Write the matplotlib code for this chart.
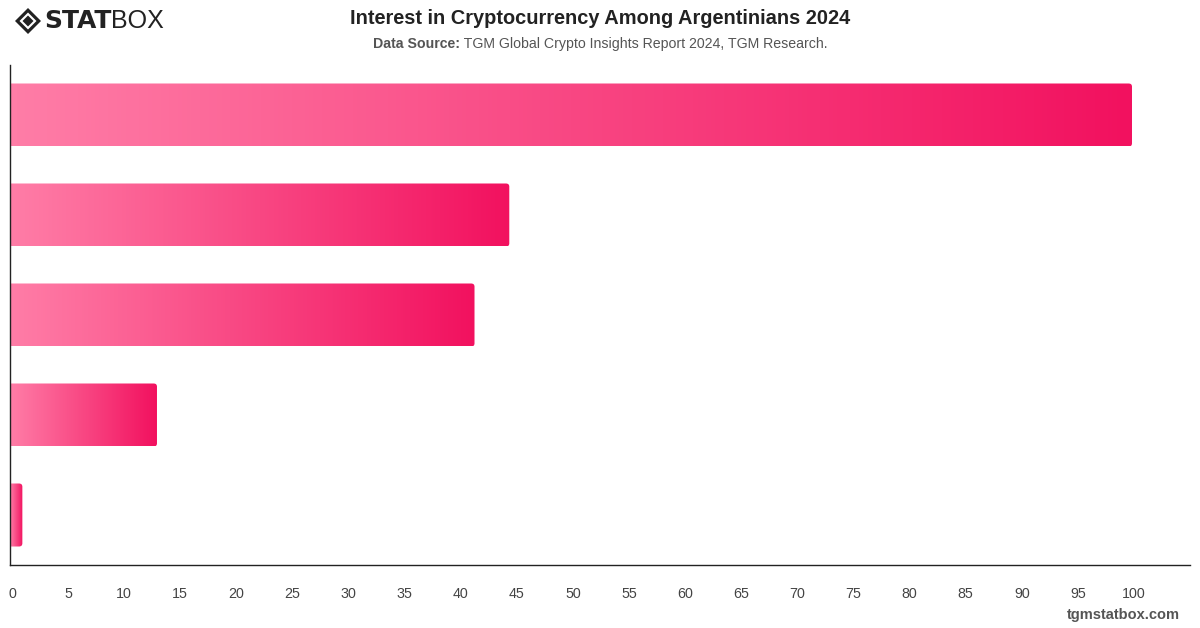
import matplotlib
matplotlib.use("Agg")
import matplotlib.pyplot as plt
import numpy as np
from matplotlib.patches import FancyBboxPatch, Polygon
from matplotlib.colors import LinearSegmentedColormap
import matplotlib.transforms as mtransforms

plt.rcParams['font.family'] = ['Liberation Sans', 'DejaVu Sans']

categories = ["A", "B", "C", "D", "E"]
values = [100, 44.5, 41.4, 13.1, 1.1]
xticks = list(range(0, 101, 5))

title = "Interest in Cryptocurrency Among Argentinians 2024"
source_bold = "Data Source:"
source_text = " TGM Global Crypto Insights Report 2024, TGM Research."

fig = plt.figure(figsize=(12, 6.28), dpi=100)
ax = fig.add_axes([10/1200, 1 - 565/628, 1180/1200, 500/628])

n = len(categories)
ypos = np.arange(n)
bar_h = 0.63

cmap = LinearSegmentedColormap.from_list("pk", ["#FF7DA7", "#F2115F"])
grad = np.linspace(0, 1, 256).reshape(1, -1)

bars = ax.barh(ypos, values, height=bar_h, color="none", edgecolor="none")
for b, v, y in zip(bars, values, ypos):
    x0 = -1
    patch = FancyBboxPatch((x0, y - bar_h/2), v - x0, bar_h,
                           boxstyle="round,pad=0,rounding_size=0.3",
                           mutation_aspect=0.105,
                           facecolor="none", edgecolor="none",
                           transform=ax.transData)
    ax.add_patch(patch)
    im = ax.imshow(grad, cmap=cmap, aspect="auto",
                   extent=[0, v, y + bar_h/2, y - bar_h/2],
                   interpolation="bilinear", zorder=2)
    im.set_clip_path(patch)

ax.set_xlim(0, 105.17)
ax.set_ylim(n - 0.5, -0.5)

for s in ["top", "right"]:
    ax.spines[s].set_visible(False)
for s in ["left", "bottom"]:
    ax.spines[s].set_color("#222222")
    ax.spines[s].set_linewidth(1.0)

ax.set_yticks([])
ax.set_xticks(xticks)
ax.set_xticklabels([str(t) for t in xticks])
ax.tick_params(axis="x", length=0, pad=16, labelsize=10.3, labelcolor="#444444")
offset = mtransforms.ScaledTranslation(2/100, 0, fig.dpi_scale_trans)
for lab in ax.get_xticklabels():
    lab.set_transform(lab.get_transform() + offset)

# Title
fig.text(0.5, 1 - 18/628, title, ha="center", va="center",
         fontsize=14.4, fontweight="bold", color="#222222")
# Subtitle
t1 = fig.text(0, 1 - 44/628, source_bold, ha="left", va="center",
              fontsize=10.2, fontweight="bold", color="#555555")
t2 = fig.text(0, 1 - 44/628, source_text, ha="left", va="center",
              fontsize=10.2, color="#555555")
fig.canvas.draw()
r = fig.canvas.get_renderer()
w1 = t1.get_window_extent(r).width
w2 = t2.get_window_extent(r).width
start = (1200 - (w1 + w2)) / 2
t1.set_x(start / 1200)
t2.set_x((start + w1) / 1200)

# Logo (pixel coords from top-left)
lx, ly = 28, 21
def diamond(s, color):
    pts = np.array([(lx - s, ly), (lx, ly - s), (lx + s, ly), (lx, ly + s)], float)
    pts[:, 1] = 628 - pts[:, 1]
    p = Polygon(pts, closed=True, facecolor=color, edgecolor="none",
                transform=mtransforms.IdentityTransform())
    fig.patches.append(p)
diamond(13, "#222222")
diamond(8.5, "white")
diamond(5.5, "#222222")

ts = fig.text(44/1200, 1 - 21/628, "STAT", ha="left", va="center",
              fontsize=18, fontweight="heavy", color="#222222",
              family=["DejaVu Sans"])
fig.canvas.draw()
ws = ts.get_window_extent(r).width
fig.text((44 + ws) / 1200, 1 - 21/628, "BOX", ha="left", va="center",
         fontsize=18, fontweight="light", color="#222222",
         family=["Liberation Sans"])

# Watermark
fig.text(1180/1200, 1 - 615/628, "tgmstatbox.com", ha="right", va="center",
         fontsize=10.5, fontweight="bold", color="#555555")

fig.savefig("out.png", dpi=100)
